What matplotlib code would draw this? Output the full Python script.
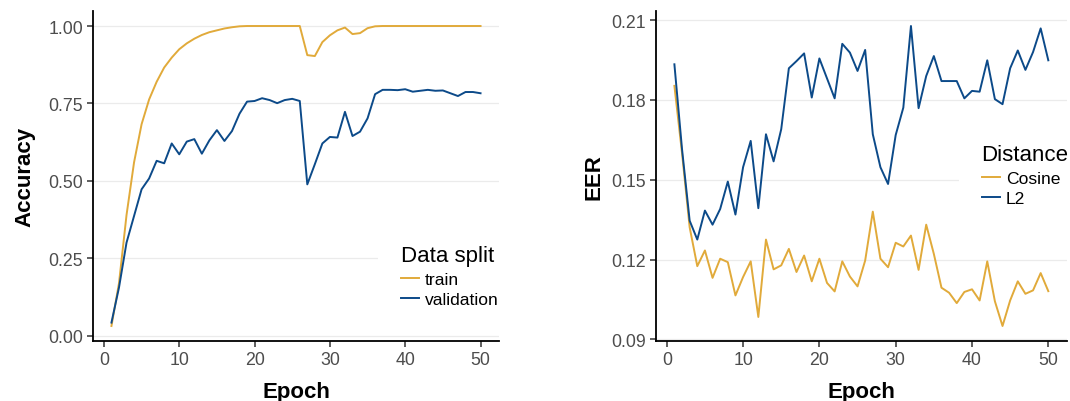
import matplotlib
matplotlib.use("Agg")
import matplotlib.pyplot as plt

plt.rcParams['font.family'] = ['Liberation Sans', 'DejaVu Sans']

# data
epochs = list(range(1, 51))

train_acc = [0.032, 0.17, 0.39, 0.56, 0.683, 0.763, 0.82, 0.866, 0.898, 0.925,
             0.944, 0.959, 0.971, 0.98, 0.986, 0.992, 0.996, 0.999, 1.0, 1.0,
             1.0, 1.0, 1.0, 1.0, 1.0, 1.0, 0.906, 0.903, 0.948, 0.970,
             0.986, 0.995, 0.974, 0.977, 0.993, 0.999, 1.0, 1.0, 1.0, 1.0,
             1.0, 1.0, 1.0, 1.0, 1.0, 1.0, 1.0, 1.0, 1.0, 1.0]
val_acc = [0.043, 0.156, 0.301, 0.387, 0.473, 0.508, 0.565, 0.557, 0.621, 0.586,
           0.627, 0.635, 0.588, 0.631, 0.664, 0.629, 0.661, 0.717, 0.756, 0.758,
           0.767, 0.761, 0.751, 0.761, 0.765, 0.758, 0.489, 0.554, 0.621, 0.642,
           0.640, 0.723, 0.645, 0.659, 0.702, 0.780, 0.794, 0.794, 0.793, 0.796,
           0.788, 0.791, 0.794, 0.791, 0.792, 0.783, 0.774, 0.787, 0.787, 0.783]

eer_cosine = [0.1853, 0.160, 0.1321, 0.1175, 0.1234, 0.1131, 0.1203, 0.119, 0.1065, 0.1134,
              0.1193, 0.0984, 0.1275, 0.1163, 0.1178, 0.124, 0.1153, 0.1215, 0.1118, 0.1203,
              0.1112, 0.108, 0.1193, 0.1136, 0.1099, 0.1196, 0.138, 0.1203, 0.1171, 0.1263,
              0.1249, 0.129, 0.1161, 0.1331, 0.1221, 0.1094, 0.1075, 0.1036, 0.1078, 0.1088,
              0.1046, 0.1193, 0.1043, 0.095, 0.1046, 0.1118, 0.1071, 0.1084, 0.1149, 0.1081]
eer_l2 = [0.1934, 0.1615, 0.1346, 0.1275, 0.1384, 0.1331, 0.139, 0.1493, 0.1369, 0.1547,
          0.1646, 0.1393, 0.1671, 0.1569, 0.169, 0.1919, 0.1946, 0.1975, 0.1809, 0.1956,
          0.1881, 0.1806, 0.2011, 0.1978, 0.1909, 0.1988, 0.1671, 0.1547, 0.1484, 0.1668,
          0.1771, 0.2078, 0.1769, 0.189, 0.1965, 0.1871, 0.1871, 0.1871, 0.1806, 0.1834,
          0.1831, 0.1949, 0.1803, 0.1784, 0.1919, 0.1986, 0.1913, 0.198, 0.2069, 0.1949]

acc_ticks = [0.0, 0.25, 0.5, 0.75, 1.0]
acc_labels = ["0.00", "0.25", "0.50", "0.75", "1.00"]
eer_ticks = [0.09, 0.12, 0.15, 0.18, 0.21]
eer_labels = ["0.09", "0.12", "0.15", "0.18", "0.21"]
epoch_ticks = [0, 10, 20, 30, 40, 50]

gold = "#E1AA3A"
blue = "#0C4A89"

W, H = 1070, 402
fig = plt.figure(figsize=(W / 100, H / 100), dpi=100)
ax1 = fig.add_axes([93 / W, 60 / H, 406 / W, 330 / H])
ax2 = fig.add_axes([655.7 / W, 60 / H, 411.3 / W, 330 / H])


def style(ax):
    for s in ["top", "right"]:
        ax.spines[s].set_visible(False)
    for s in ["left", "bottom"]:
        ax.spines[s].set_linewidth(1.3)
        ax.spines[s].set_color("black")
    ax.grid(axis="y", color="#EBEBEB", linewidth=0.9)
    ax.set_axisbelow(True)
    ax.tick_params(labelsize=12.8, labelcolor="#4D4D4D", color="#333333",
                   length=4, width=1.1, pad=3)
    ax.set_xticks(epoch_ticks)


ax1.plot(epochs, train_acc, color=gold, lw=1.4, label="train")
ax1.plot(epochs, val_acc, color=blue, lw=1.4, label="validation")
style(ax1)
ax1.set_yticks(acc_ticks)
ax1.set_yticklabels(acc_labels)
ax1.set_xlabel("Epoch", fontsize=16, fontweight="bold")
ax1.set_ylabel("Accuracy", fontsize=16, fontweight="bold")
ax1.xaxis.set_label_coords(0.5, -0.121)
ax1.yaxis.set_label_coords(-0.142, 0.5)

ax2.plot(epochs, eer_cosine, color=gold, lw=1.4, label="Cosine")
ax2.plot(epochs, eer_l2, color=blue, lw=1.4, label="L2")
style(ax2)
ax2.set_yticks(eer_ticks)
ax2.set_yticklabels(eer_labels)
ax2.set_xlabel("Epoch", fontsize=16, fontweight="bold")
ax2.set_ylabel("EER", fontsize=16, fontweight="bold")
ax2.xaxis.set_label_coords(0.5, -0.121)
ax2.yaxis.set_label_coords(-0.124, 0.5)

leg_kw = dict(loc="upper left", bbox_transform=fig.transFigure, fontsize=12.6,
              title_fontsize=16, alignment="left", frameon=True, facecolor="white",
              edgecolor="none", framealpha=1, fancybox=False, borderpad=1.3,
              handlelength=1.05, handletextpad=0.35, labelspacing=0.28)
ax1.legend(title="Data split", bbox_to_anchor=(369 / W, 1 - 215 / H), **leg_kw)
ax2.legend(title="Distance", bbox_to_anchor=(950 / W, 1 - 114 / H), **leg_kw)

fig.savefig("out.png", dpi=100)
